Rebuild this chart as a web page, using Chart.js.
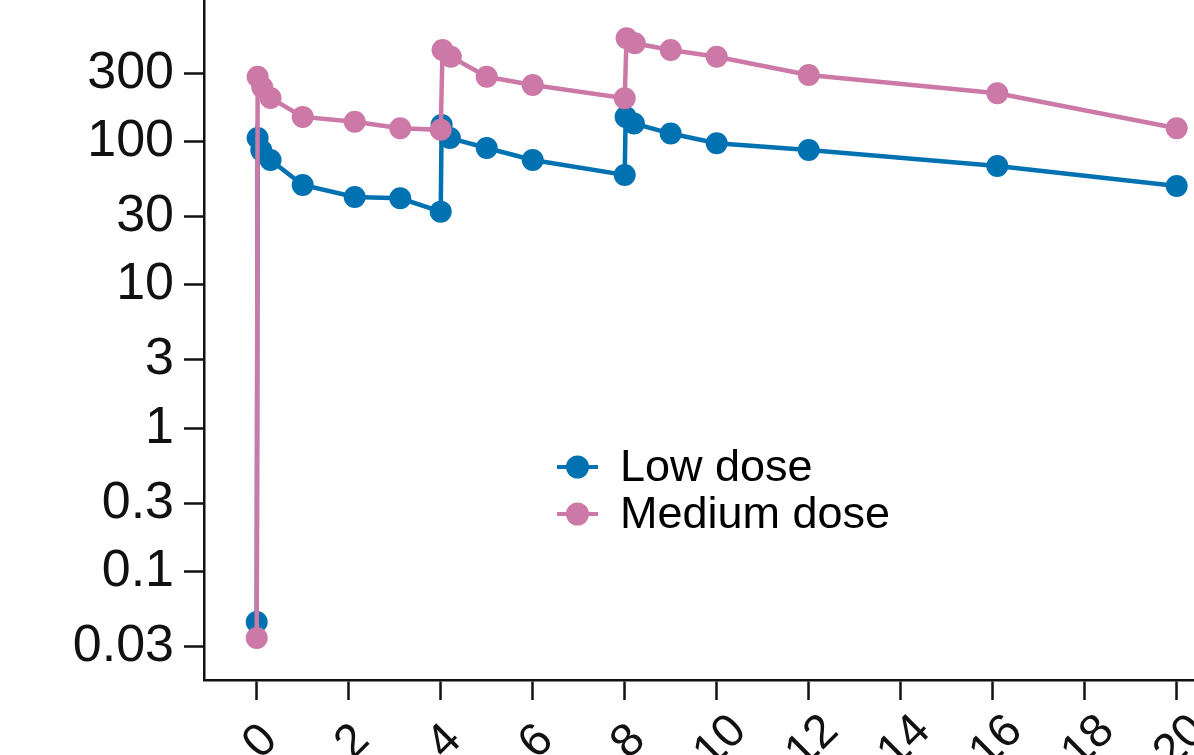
<!DOCTYPE html>
<html>
<head>
<meta charset="utf-8">
<script src="https://cdn.jsdelivr.net/npm/chart.js@4/dist/chart.umd.min.js"></script>
<style>
  html, body { margin: 0; padding: 0; background: #fff; }
  #wrap { width: 1194px; height: 755px; position: relative; }
</style>
</head>
<body>
<div id="wrap"><canvas id="c"></canvas></div>
<script>
// ---- data ----
const seriesLabels = ["Low dose", "Medium dose"];
const lowTimes  = [0, 0.02, 0.1, 0.3, 1, 2.13, 3.12, 4, 4.02, 4.2, 5, 6, 8, 8.02, 8.2, 9, 10, 12, 16.1, 20];
const lowValues = [0.0445, 106, 87, 74.5, 49.9, 41.1, 40.3, 32.5, 131, 106, 90.4, 74.5, 58.6, 149, 134, 114, 97.5, 87.5, 67.7, 49.1];
const medTimes  = [0, 0.02, 0.12, 0.3, 1, 2.13, 3.12, 4, 4.04, 4.22, 5, 6, 8, 8.04, 8.22, 9, 10, 12, 16.1, 20];
const medValues = [0.0344, 284, 240, 202, 149, 138, 124, 121, 437, 392, 284, 249, 201, 527, 486, 437, 392, 292, 218, 124];
const xTickValues = [0, 2, 4, 6, 8, 10, 12, 14, 16, 18, 20];
const yTickValues = [0.03, 0.1, 0.3, 1, 3, 10, 30, 100, 300];
const colors = ["#0072B2", "#CC79A7"];

const FONT = '"Liberation Sans", Arial, Helvetica, sans-serif';
const INK = '#111111';

function pts(xs, ys) { return xs.map((x, i) => ({ x: x, y: ys[i] })); }
function noPad(scale) { scale.paddingTop = 0; scale.paddingBottom = 0; scale.paddingLeft = 0; scale.paddingRight = 0; }

const xLabelPlugin = {
  id: 'xLabels',
  afterDraw(chart) {
    const ctx = chart.ctx, xs = chart.scales.x;
    ctx.save();
    ctx.font = '47px ' + FONT;
    ctx.fillStyle = INK;
    ctx.textAlign = 'center';
    ctx.textBaseline = 'middle';
    xTickValues.forEach(v => {
      const px = xs.getPixelForValue(v);
      ctx.save();
      ctx.translate(px + 4, 742);
      ctx.rotate(-Math.PI / 4);
      ctx.fillText(String(v), 0, 0);
      ctx.restore();
    });
    ctx.restore();
  }
};

const legendPlugin = {
  id: 'innerLegend',
  afterDraw(chart) {
    const ctx = chart.ctx;
    const rows = [467, 514];
    ctx.save();
    ctx.font = '45px ' + FONT;
    ctx.textBaseline = 'middle';
    ctx.textAlign = 'left';
    chart.data.datasets.forEach((ds, i) => {
      const y = rows[i];
      ctx.strokeStyle = ds.borderColor;
      ctx.fillStyle = ds.borderColor;
      ctx.lineWidth = 4;
      ctx.beginPath(); ctx.moveTo(557, y); ctx.lineTo(598, y); ctx.stroke();
      ctx.beginPath(); ctx.arc(577.5, y, 11.5, 0, Math.PI * 2); ctx.fill();
      ctx.fillStyle = '#000';
      ctx.fillText(ds.label, 620, y + 2);
    });
    ctx.restore();
  }
};

new Chart(document.getElementById('c'), {
  type: 'line',
  data: {
    datasets: [
      { label: seriesLabels[0], data: pts(lowTimes, lowValues), borderColor: colors[0], backgroundColor: colors[0],
        borderWidth: 4.5, pointRadius: 11, pointBorderWidth: 0, pointHoverRadius: 11, tension: 0, order: 2 },
      { label: seriesLabels[1], data: pts(medTimes, medValues), borderColor: colors[1], backgroundColor: colors[1],
        borderWidth: 4.5, pointRadius: 11, pointBorderWidth: 0, pointHoverRadius: 11, tension: 0, order: 1 }
    ]
  },
  options: {
    responsive: true,
    maintainAspectRatio: false,
    animation: false,
    layout: { padding: 0, autoPadding: false },
    plugins: { legend: { display: false }, tooltip: { enabled: false } },
    scales: {
      x: {
        type: 'linear',
        min: -1.146, max: 20.376,
        afterBuildTicks(scale) { scale.ticks = xTickValues.map(v => ({ value: v })); },
        afterFit(scale) { scale.height = 75; noPad(scale); },
        ticks: { display: false },
        grid: { drawOnChartArea: false, drawTicks: true, tickLength: 20, tickColor: '#111', tickWidth: 2.5 },
        border: { display: true, color: '#111', width: 2.5 }
      },
      y: {
        type: 'logarithmic',
        min: 0.0175, max: 975,
        afterBuildTicks(scale) { scale.ticks = yTickValues.map(v => ({ value: v })); },
        afterFit(scale) { scale.width = 204; noPad(scale); },
        ticks: {
          padding: 10, color: INK,
          font: { family: FONT, size: 52 },
          callback: (v) => String(v)
        },
        grid: { drawOnChartArea: false, drawTicks: true, tickLength: 20, tickColor: '#111', tickWidth: 2.5 },
        border: { display: true, color: '#111', width: 2.5 }
      }
    }
  },
  plugins: [xLabelPlugin, legendPlugin]
});
</script>
</body>
</html>
